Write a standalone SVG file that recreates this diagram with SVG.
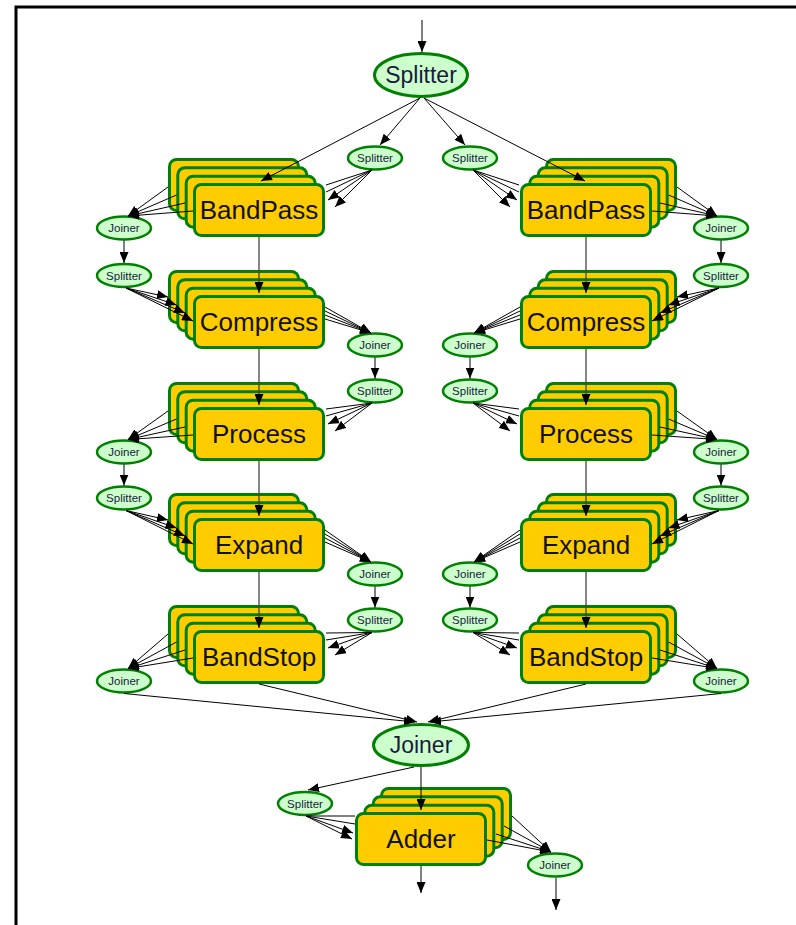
<svg xmlns="http://www.w3.org/2000/svg" xmlns:xlink="http://www.w3.org/1999/xlink" width="796" height="925" viewBox="0 0 796 925">
  <style>
    .box { fill: #FFCC00; stroke: #008000; stroke-width: 3; }
    .ell { fill: #CCFFCC; stroke: #008000; stroke-width: 3; }
    .sm { fill: #CCFFCC; stroke: #008000; stroke-width: 2.5; }
    .bt { font-family: "Liberation Sans", Arial, sans-serif; font-size: 26px; fill: #111; text-anchor: middle; }
    .et { font-family: "Liberation Sans", Arial, sans-serif; font-size: 23px; fill: #1a1a40; text-anchor: middle; }
    .st { font-family: "Liberation Sans", Arial, sans-serif; font-size: 11.5px; fill: #1a1a40; text-anchor: middle; }
    .e { stroke: #000; stroke-width: 1; fill: none; marker-end: url(#ah); }
    .n { stroke: #000; stroke-width: 1; fill: none; }
    .v { stroke: #444; stroke-width: 1.3; fill: none; marker-end: url(#ah); }
  </style>
  <defs>
    <marker id="ah" viewBox="0 0 11 9" refX="11" refY="4.5" markerWidth="11" markerHeight="9" markerUnits="userSpaceOnUse" orient="auto">
      <path d="M0,0 L11,4.5 L0,9 z" fill="#000"/>
    </marker>
    <!-- stack of four filter copies fanning up-left; origin = front box outer corner -->
    <g id="stackL">
      <rect class="box" x="-23.5" y="-23.5" width="129" height="51" rx="7"/>
      <rect class="box" x="-15.2" y="-15.2" width="129" height="51" rx="7"/>
      <rect class="box" x="-6.8" y="-6.8" width="129" height="51" rx="7"/>
      <rect class="box" x="1.5" y="1.5" width="129" height="51" rx="7"/>
    </g>
    <!-- stack of four filter copies fanning up-right -->
    <g id="stackR">
      <rect class="box" x="26.5" y="-23.5" width="129" height="51" rx="7"/>
      <rect class="box" x="18.2" y="-15.2" width="129" height="51" rx="7"/>
      <rect class="box" x="9.8" y="-6.8" width="129" height="51" rx="7"/>
      <rect class="box" x="1.5" y="1.5" width="129" height="51" rx="7"/>
    </g>
  </defs>

  <rect width="796" height="925" fill="#fff"/>
  <path d="M16,925 V7 H796" fill="none" stroke="#000" stroke-width="3"/>

  <!-- main splitter / joiner -->
  <g id="splitter-main">
    <ellipse class="ell" cx="421" cy="75" rx="46.5" ry="21.5"/>
    <text class="et" x="421" y="83">Splitter</text>
  </g>
  <g id="joiner-main">
    <ellipse class="ell" cx="421" cy="745" rx="47.5" ry="20.5"/>
    <text class="et" x="421" y="753">Joiner</text>
  </g>

  <!-- left pipeline -->
  <g id="bandpass-l"><use xlink:href="#stackL" x="193" y="183"/><text class="bt" x="259" y="219">BandPass</text></g>
  <g id="compress-l"><use xlink:href="#stackL" x="193" y="295"/><text class="bt" x="259" y="331">Compress</text></g>
  <g id="process-l"><use xlink:href="#stackL" x="193" y="407"/><text class="bt" x="259" y="443">Process</text></g>
  <g id="expand-l"><use xlink:href="#stackL" x="193" y="518"/><text class="bt" x="259" y="554">Expand</text></g>
  <g id="bandstop-l"><use xlink:href="#stackL" x="193" y="630"/><text class="bt" x="259" y="666">BandStop</text></g>

  <!-- right pipeline -->
  <g id="bandpass-r"><use xlink:href="#stackR" x="520" y="183"/><text class="bt" x="586" y="219">BandPass</text></g>
  <g id="compress-r"><use xlink:href="#stackR" x="520" y="295"/><text class="bt" x="586" y="331">Compress</text></g>
  <g id="process-r"><use xlink:href="#stackR" x="520" y="407"/><text class="bt" x="586" y="443">Process</text></g>
  <g id="expand-r"><use xlink:href="#stackR" x="520" y="518"/><text class="bt" x="586" y="554">Expand</text></g>
  <g id="bandstop-r"><use xlink:href="#stackR" x="520" y="630"/><text class="bt" x="586" y="666">BandStop</text></g>

  <!-- adder -->
  <g id="adder"><use xlink:href="#stackR" x="355" y="812"/><text class="bt" x="421" y="848">Adder</text></g>

  <!-- small split/join nodes, left half -->
  <g id="sp-l0"><ellipse class="sm" cx="375" cy="158" rx="27" ry="11.5"/><text class="st" x="375" y="162">Splitter</text></g>
  <g id="jn-l0"><ellipse class="sm" cx="124" cy="228" rx="27" ry="11.5"/><text class="st" x="124" y="232">Joiner</text></g>
  <g id="sp-l1"><ellipse class="sm" cx="124" cy="275.5" rx="27" ry="11.5"/><text class="st" x="124" y="279.5">Splitter</text></g>
  <g id="jn-l1"><ellipse class="sm" cx="375" cy="345" rx="27" ry="11.5"/><text class="st" x="375" y="349">Joiner</text></g>
  <g id="sp-l2"><ellipse class="sm" cx="375" cy="391" rx="27" ry="11.5"/><text class="st" x="375" y="395">Splitter</text></g>
  <g id="jn-l2"><ellipse class="sm" cx="124" cy="452" rx="27" ry="11.5"/><text class="st" x="124" y="456">Joiner</text></g>
  <g id="sp-l3"><ellipse class="sm" cx="124" cy="498" rx="27" ry="11.5"/><text class="st" x="124" y="502">Splitter</text></g>
  <g id="jn-l3"><ellipse class="sm" cx="375" cy="574" rx="27" ry="11.5"/><text class="st" x="375" y="578">Joiner</text></g>
  <g id="sp-l4"><ellipse class="sm" cx="375" cy="620" rx="27" ry="11.5"/><text class="st" x="375" y="624">Splitter</text></g>
  <g id="jn-l4"><ellipse class="sm" cx="124" cy="681" rx="27" ry="11.5"/><text class="st" x="124" y="685">Joiner</text></g>

  <!-- small split/join nodes, right half -->
  <g id="sp-r0"><ellipse class="sm" cx="470" cy="158" rx="27" ry="11.5"/><text class="st" x="470" y="162">Splitter</text></g>
  <g id="jn-r0"><ellipse class="sm" cx="721" cy="228" rx="27" ry="11.5"/><text class="st" x="721" y="232">Joiner</text></g>
  <g id="sp-r1"><ellipse class="sm" cx="721" cy="275.5" rx="27" ry="11.5"/><text class="st" x="721" y="279.5">Splitter</text></g>
  <g id="jn-r1"><ellipse class="sm" cx="470" cy="345" rx="27" ry="11.5"/><text class="st" x="470" y="349">Joiner</text></g>
  <g id="sp-r2"><ellipse class="sm" cx="470" cy="391" rx="27" ry="11.5"/><text class="st" x="470" y="395">Splitter</text></g>
  <g id="jn-r2"><ellipse class="sm" cx="721" cy="452" rx="27" ry="11.5"/><text class="st" x="721" y="456">Joiner</text></g>
  <g id="sp-r3"><ellipse class="sm" cx="721" cy="498" rx="27" ry="11.5"/><text class="st" x="721" y="502">Splitter</text></g>
  <g id="jn-r3"><ellipse class="sm" cx="470" cy="574" rx="27" ry="11.5"/><text class="st" x="470" y="578">Joiner</text></g>
  <g id="sp-r4"><ellipse class="sm" cx="470" cy="620" rx="27" ry="11.5"/><text class="st" x="470" y="624">Splitter</text></g>
  <g id="jn-r4"><ellipse class="sm" cx="721" cy="681" rx="27" ry="11.5"/><text class="st" x="721" y="685">Joiner</text></g>

  <!-- bottom split/join -->
  <g id="sp-add"><ellipse class="sm" cx="305" cy="803.5" rx="27" ry="11.5"/><text class="st" x="305" y="807.5">Splitter</text></g>
  <g id="jn-add"><ellipse class="sm" cx="555" cy="865" rx="27" ry="11.5"/><text class="st" x="555" y="869">Joiner</text></g>

  <g id="connectors">
    <!-- input -->
    <line class="e" x1="422" y1="20" x2="422" y2="52"/>
    <!-- main splitter outputs -->
    <line class="e" x1="420" y1="98" x2="261" y2="181"/>
    <line class="e" x1="420" y1="98" x2="380" y2="145"/>
    <line class="e" x1="424" y1="98" x2="465" y2="145"/>
    <line class="e" x1="424" y1="98" x2="585" y2="181"/>

    <!-- left half; the right half is its mirror image -->
    <g id="edges-left">
      <!-- row 0: BandPass -->
      <line class="n" x1="372" y1="170" x2="326" y2="185"/>
      <line class="n" x1="372" y1="170" x2="326" y2="192"/>
      <line class="e" x1="372" y1="170" x2="328" y2="200"/>
      <line class="e" x1="372" y1="170" x2="335" y2="207"/>
      <line class="e" x1="168" y1="187" x2="128" y2="216"/>
      <line class="e" x1="176.5" y1="195" x2="128" y2="216"/>
      <line class="e" x1="185" y1="203" x2="128" y2="216"/>
      <line class="e" x1="193" y1="211" x2="128" y2="216"/>
      <line class="e" x1="124" y1="240.5" x2="124" y2="263"/>
      <line class="v" x1="259" y1="237" x2="259" y2="293"/>
      <!-- row 1: Compress -->
      <line class="e" x1="126" y1="288" x2="168" y2="297"/>
      <line class="e" x1="126" y1="288" x2="176.5" y2="305"/>
      <line class="e" x1="126" y1="288" x2="185" y2="313"/>
      <line class="e" x1="126" y1="288" x2="193" y2="321"/>
      <line class="e" x1="325" y1="307" x2="371" y2="333"/>
      <line class="e" x1="325" y1="311" x2="371" y2="333"/>
      <line class="e" x1="325" y1="315" x2="371" y2="333"/>
      <line class="e" x1="325" y1="319" x2="371" y2="333"/>
      <line class="e" x1="375" y1="357.5" x2="375" y2="378.5"/>
      <line class="v" x1="259" y1="349" x2="259" y2="405"/>
      <!-- row 2: Process -->
      <line class="n" x1="372" y1="403" x2="326" y2="409"/>
      <line class="n" x1="372" y1="403" x2="326" y2="416"/>
      <line class="e" x1="372" y1="403" x2="328" y2="424"/>
      <line class="e" x1="372" y1="403" x2="335" y2="431"/>
      <line class="e" x1="168" y1="411" x2="128" y2="439.5"/>
      <line class="e" x1="176.5" y1="419" x2="128" y2="439.5"/>
      <line class="e" x1="185" y1="427" x2="128" y2="439.5"/>
      <line class="e" x1="193" y1="435" x2="128" y2="439.5"/>
      <line class="e" x1="124" y1="464.5" x2="124" y2="485.5"/>
      <line class="v" x1="259" y1="461" x2="259" y2="516"/>
      <!-- row 3: Expand -->
      <line class="e" x1="126" y1="510.5" x2="168" y2="520"/>
      <line class="e" x1="126" y1="510.5" x2="176.5" y2="528"/>
      <line class="e" x1="126" y1="510.5" x2="185" y2="536"/>
      <line class="e" x1="126" y1="510.5" x2="193" y2="544"/>
      <line class="e" x1="325" y1="530" x2="371" y2="562"/>
      <line class="e" x1="325" y1="534" x2="371" y2="562"/>
      <line class="e" x1="325" y1="538" x2="371" y2="562"/>
      <line class="e" x1="325" y1="542" x2="371" y2="562"/>
      <line class="e" x1="375" y1="586.5" x2="375" y2="607.5"/>
      <line class="v" x1="259" y1="572" x2="259" y2="628"/>
      <!-- row 4: BandStop -->
      <line class="n" x1="372" y1="632.5" x2="326" y2="633"/>
      <line class="n" x1="372" y1="632.5" x2="326" y2="640"/>
      <line class="e" x1="372" y1="632.5" x2="328" y2="648"/>
      <line class="e" x1="372" y1="632.5" x2="335" y2="655"/>
      <line class="e" x1="168" y1="634" x2="128" y2="668.5"/>
      <line class="e" x1="176.5" y1="642" x2="128" y2="668.5"/>
      <line class="e" x1="185" y1="650" x2="128" y2="668.5"/>
      <line class="e" x1="193" y1="658" x2="128" y2="668.5"/>
      <!-- into main joiner -->
      <line class="e" x1="124" y1="693.5" x2="415" y2="722"/>
      <line class="e" x1="259" y1="684" x2="417" y2="722"/>
    </g>
    <use xlink:href="#edges-left" transform="matrix(-1 0 0 1 845 0)"/>

    <!-- adder stage -->
    <line class="e" x1="421" y1="767" x2="421" y2="810"/>
    <line class="e" x1="414" y1="767" x2="308" y2="790"/>
    <line class="n" x1="306" y1="816" x2="355" y2="816"/>
    <line class="n" x1="306" y1="816" x2="355" y2="824"/>
    <line class="e" x1="306" y1="816" x2="353" y2="833"/>
    <line class="e" x1="306" y1="816" x2="352" y2="839"/>
    <line class="e" x1="487" y1="840" x2="551" y2="852"/>
    <line class="e" x1="496" y1="834" x2="551" y2="852"/>
    <line class="e" x1="504" y1="826" x2="551" y2="852"/>
    <line class="e" x1="512" y1="816" x2="551" y2="852"/>
    <line class="e" x1="421" y1="866" x2="421" y2="893"/>
    <line class="e" x1="556" y1="878" x2="556" y2="910"/>
  </g>
</svg>
